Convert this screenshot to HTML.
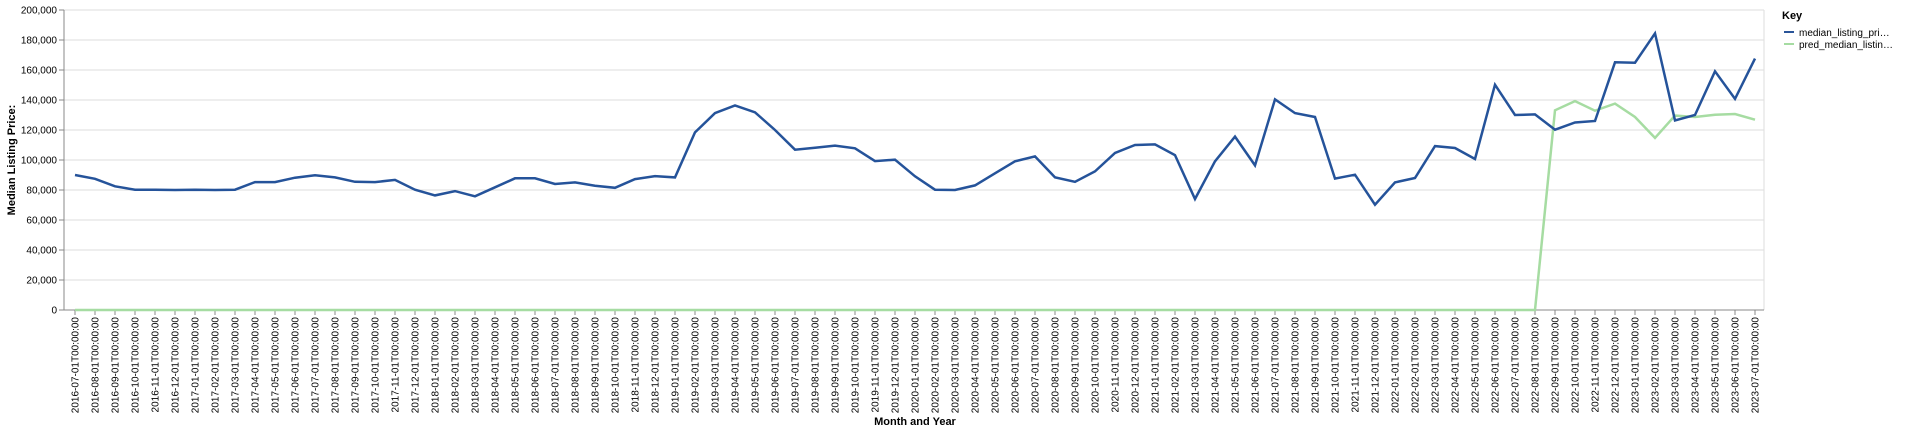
<!DOCTYPE html>
<html><head><meta charset="utf-8"><style>
body{margin:0;background:#fff;}
svg{display:block;font-family:"Liberation Sans",sans-serif;}
</style></head><body>
<svg id="chart" width="1920" height="434" viewBox="0 0 1920 434" xmlns="http://www.w3.org/2000/svg">
<g id="grid"></g>
<g id="yaxis"></g>
<g id="xaxis"></g>
<g id="series"></g>
<text transform="translate(15,160) rotate(-90)" text-anchor="middle" font-size="11" font-weight="bold" fill="#000">Median Listing Price:</text>
<text x="915" y="425" text-anchor="middle" font-size="11" font-weight="bold" fill="#000">Month and Year</text>
<g>
<text x="1782" y="19" font-size="11" font-weight="bold" fill="#000">Key</text>
<g>
<line x1="1784" y1="32" x2="1794" y2="32" stroke="#2a5599" stroke-width="2"/>
<text x="1799" y="36" font-size="10" fill="#000">median_listing_pri…</text>
</g>
<g>
<line x1="1784" y1="44" x2="1794" y2="44" stroke="#a6dca2" stroke-width="2"/>
<text x="1799" y="48" font-size="10" fill="#000">pred_median_listin…</text>
</g>
</g>
</svg>
<script>
const startYear = 2016, startMonth = 7, monthCount = 85;
const medianValues = [90,87.5,82.5,80.2,80.2,80,80.2,80,80.2,85.3,85.3,88.2,89.8,88.4,85.5,85.3,86.7,80.2,76.4,79.3,75.8,81.8,87.8,87.8,84,85.1,82.9,81.5,87.3,89.3,88.4,118.4,131.3,136.4,131.8,120,106.9,108.2,109.6,107.8,99.3,100.2,89.1,80.2,80,83.1,91.1,99.1,102.4,88.4,85.5,92.4,104.7,110,110.4,103.3,74,99.1,115.6,96.4,140.4,131.3,128.7,87.6,90.2,70.2,85.1,88,109.3,108,100.7,150.2,130,130.4,120.2,125,126,165.1,164.9,184.4,126.4,130,159.1,140.7,167.6];
const predValues = [0,0,0,0,0,0,0,0,0,0,0,0,0,0,0,0,0,0,0,0,0,0,0,0,0,0,0,0,0,0,0,0,0,0,0,0,0,0,0,0,0,0,0,0,0,0,0,0,0,0,0,0,0,0,0,0,0,0,0,0,0,0,0,0,0,0,0,0,0,0,0,0,0,0,133.1,139.3,132.9,137.6,128.7,114.7,129.6,128.7,130.2,130.7,126.9];
const yTicks = [0,20000,40000,60000,80000,100000,120000,140000,160000,180000,200000];

const NS="http://www.w3.org/2000/svg";
const X0=64, X1=1764, Y0=310, Y1=10;
const firstX=75, step=(1755-75)/84;
function xs(i){return firstX+i*step;}
function ys(v){return Y0-(v/200000)*(Y0-Y1);}
function mk(tag,attrs,parent){const e=document.createElementNS(NS,tag);for(const k in attrs)e.setAttribute(k,attrs[k]);parent.appendChild(e);return e;}
const grid=document.getElementById('grid'),ya=document.getElementById('yaxis'),xa=document.getElementById('xaxis'),ser=document.getElementById('series');
const labels=[];
for(let i=0;i<monthCount;i++){const m=(startMonth-1+i)%12+1;const y=startYear+Math.floor((startMonth-1+i)/12);labels.push(y+'-'+String(m).padStart(2,'0')+'-01T00:00:00');}
yTicks.forEach(t=>{
  const y=ys(t);
  const g=mk('line',{x1:X0,x2:X1,y1:y,y2:y,stroke:'#ddd','stroke-width':1},grid);
  
  
  mk('line',{x1:X0-5,x2:X0,y1:y,y2:y,stroke:'#888'},ya);
  const tx=mk('text',{x:X0-7,y:y+3.5,'text-anchor':'end','font-size':10,fill:'#000'},ya);
  tx.textContent=t.toLocaleString('en-US');
  
  
});
mk('line',{x1:X1,x2:X1,y1:Y1,y2:Y0,stroke:'#ddd'},grid);
mk('line',{x1:X0,x2:X0,y1:Y1,y2:Y0,stroke:'#888'},ya);
mk('line',{x1:X0,x2:X1,y1:Y0,y2:Y0,stroke:'#888'},xa);
labels.forEach((l,i)=>{
  const x=xs(i);
  mk('line',{x1:x,x2:x,y1:Y0,y2:Y0+5,stroke:'#888'},xa);
  const tx=mk('text',{transform:'translate('+(x+3.5)+','+(Y0+7)+') rotate(-90)','text-anchor':'end','font-size':10,fill:'#000'},xa);
  tx.textContent=l;
  
  
});
function line(vals,color,name){
  const d=vals.map((v,i)=>(i?'L':'M')+xs(i).toFixed(1)+','+ys(v*1000).toFixed(1)).join('');
  const p=mk('path',{d:d,fill:'none',stroke:color,'stroke-width':2.5,'stroke-linejoin':'miter'},ser);
  
  
}
line(predValues,'#a6dca2','pred-median-listing-price-line');
line(medianValues,'#25539a','median-listing-price-line');
</script>
</body></html>
